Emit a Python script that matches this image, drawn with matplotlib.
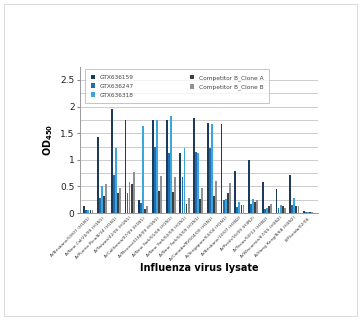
import matplotlib
matplotlib.use("Agg")
import matplotlib.pyplot as plt
import numpy as np

strains = [
    "A/Brisbane/59/07 (H1N1)", "A/New Cal/20/99 (H1N1)", "A/Puerto Rico/8/34 (H1N1)",
    "A/Taiwan/42/06 (H1N1)", "A/California/07/09 (H1N1)", "A/Mexico/4108/09 (H1N1)",
    "A/New York/01/09 (H1N1)", "A/New York/02/09 (H1N1)", "A/New York/03/09 (H1N1)",
    "A/Canada/RV504/09 (H1N1)", "A/Singapore/63/04 (H1N1)", "A/Brisbane/10/07 (H3N2)",
    "A/Perth/16/09 (H3N2)", "A/Texas/50/12 (H3N2)", "A/Wisconsin/67/05 (H3N2)",
    "A/Hong Kong/8/68 (H3N2)", "B/Florida/02/06",
]
series_names = ["GTX636159", "GTX636247", "GTX636318",
                "Competitor B_Clone A", "Competitor B_Clone B"]
gtx636159 = [0.13, 1.43, 1.95, 1.75, 0.24, 1.75, 1.75, 1.13, 1.78, 1.70, 1.67, 0.79, 1.00, 0.59, 0.45, 0.71, 0.04]
gtx636247 = [0.05, 0.28, 0.72, 0.38, 0.19, 1.25, 1.12, 0.67, 1.15, 1.22, 0.24, 0.12, 0.18, 0.08, 0.10, 0.15, 0.03]
gtx636318 = [0.05, 0.50, 1.22, 0.58, 1.63, 1.75, 1.83, 1.23, 1.12, 1.67, 0.27, 0.21, 0.27, 0.10, 0.15, 0.28, 0.03]
comp_a = [0.05, 0.33, 0.38, 0.55, 0.07, 0.42, 0.40, 0.17, 0.27, 0.33, 0.38, 0.15, 0.20, 0.13, 0.13, 0.14, 0.03]
comp_b = [0.06, 0.55, 0.48, 0.77, 0.13, 0.70, 0.68, 0.28, 0.48, 0.60, 0.56, 0.15, 0.24, 0.18, 0.10, 0.14, 0.03]

colors = ["#1b3a5c", "#1f6eb0", "#3aa6dc", "#3d3f42", "#8f9194"]

fig = plt.figure(figsize=(3.61, 3.2), dpi=100)
fig.add_artist(plt.Rectangle((0.012, 0.012), 0.976, 0.976, transform=fig.transFigure,
                             fill=False, edgecolor="#dddddd", linewidth=0.8))
ax = fig.add_axes([0.222, 0.334, 0.658, 0.458])

x = np.arange(len(strains))
w = 0.15
for i, (vals, name) in enumerate(zip([gtx636159, gtx636247, gtx636318, comp_a, comp_b], series_names)):
    ax.bar(x + (i - 2) * w, vals, width=w * 0.9, color=colors[i], label=name, zorder=3)

ax.set_ylim(0, 2.75)
ax.set_xlim(-0.6, 16.7)
ax.set_yticks([0, 0.5, 1, 1.5, 2, 2.5])
ax.set_yticklabels(["0", "0.5", "1", "1.5", "2", "2.5"], fontsize=6.5, color="#222222")
ax.set_yticks(np.arange(0, 2.6, 0.25), minor=True)
ax.grid(axis="y", which="both", color="#cccccc", linewidth=0.7, zorder=0)
ax.tick_params(axis="y", which="major", length=2, color="#888888", pad=2)
ax.tick_params(axis="y", which="minor", length=0)
ax.set_xticks(x)
ax.set_xticklabels(strains, rotation=45, ha="right", rotation_mode="anchor", fontsize=3.2, color="#333333")
ax.tick_params(axis="x", length=0, pad=2)
for s in ["top", "right"]:
    ax.spines[s].set_visible(False)
ax.spines["left"].set_color("#999999")
ax.spines["bottom"].set_color("#999999")
ax.spines["left"].set_linewidth(0.7)
ax.spines["bottom"].set_linewidth(0.7)

ax.set_ylabel("OD$_{\\mathbf{450}}$", fontsize=7, fontweight="bold", labelpad=4)
ax.set_xlabel("Influenza virus lysate", fontsize=7, fontweight="bold", labelpad=1)

leg = ax.legend(ncol=2, loc="upper left", bbox_to_anchor=(0.01, 1.0), fontsize=4.2,
                frameon=True, fancybox=False, edgecolor="#aaaaaa", handlelength=0.8,
                handleheight=0.8, columnspacing=9.5, borderpad=0.9, labelspacing=0.6)
leg.get_frame().set_linewidth(0.6)
for t in leg.get_texts():
    t.set_color("#444444")

fig.savefig("out.png", dpi=100)
